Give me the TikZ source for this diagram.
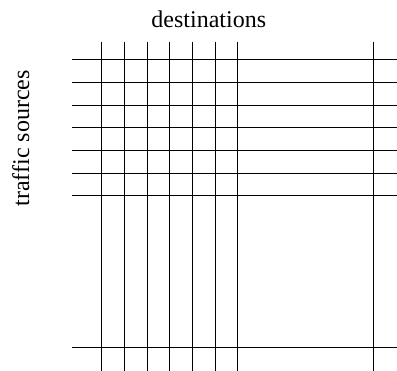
\documentclass[tikz,border=0pt]{standalone}
\usepackage{fontspec}
\setmainfont[Ligatures=NoCommon]{Liberation Serif}
\begin{document}
\begin{tikzpicture}[x=1pt,y=-1pt,
  gridline/.style={line width=1.5pt,black},
  lbl/.style={inner sep=0pt,font=\fontsize{24}{28}\selectfont}]
\useasboundingbox (0,0) rectangle (397,371);
\node[lbl,anchor=base] (dest) at (208.8,27.3) {destinations};
\node[lbl,anchor=base,rotate=90] (src) at (29,138.3) {traffic sources};
\foreach \x in {101.5,124.5,147.5,169.5,192.5,215.5,237.5,373.5}
  \draw[gridline] (\x,41.7) -- (\x,371);
\foreach \y in {59.5,82.5,105.5,127.5,150.5,173.5,195.5,347.5}
  \draw[gridline] (71.7,\y) -- (397,\y);
\end{tikzpicture}
\end{document}
